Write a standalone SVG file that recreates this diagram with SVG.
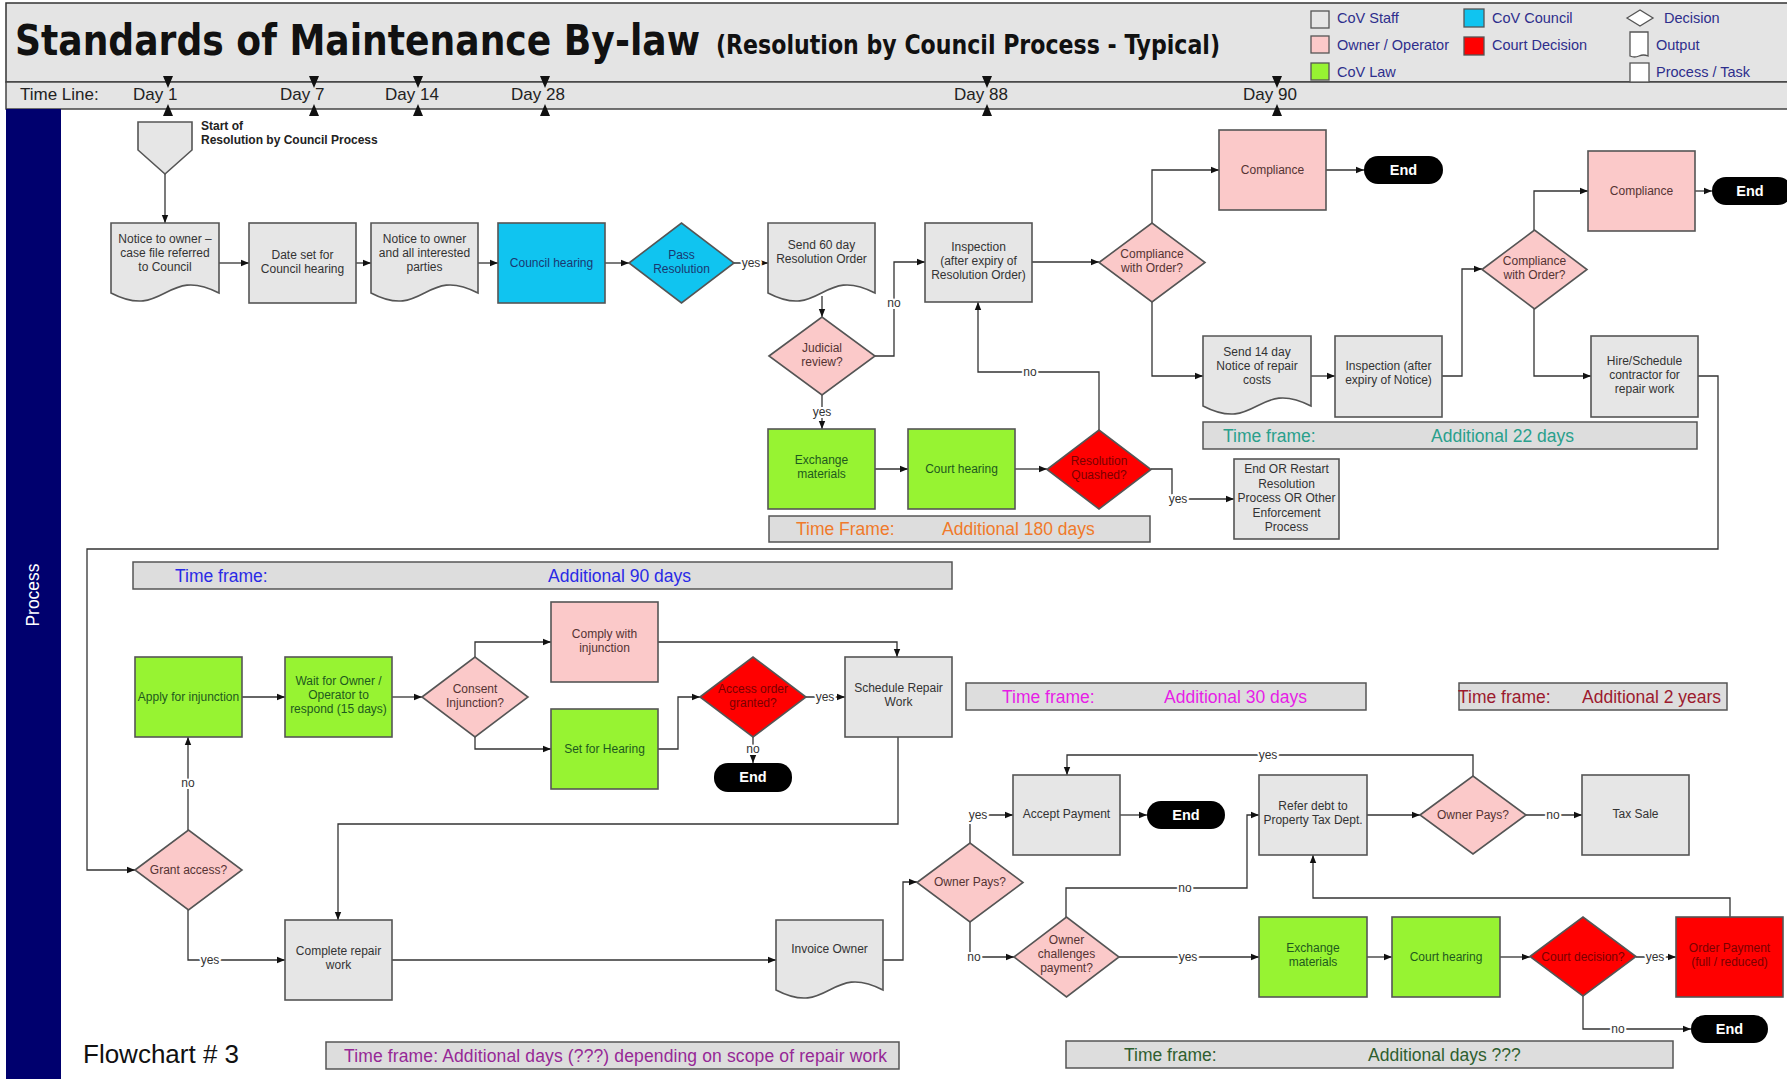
<svg xmlns="http://www.w3.org/2000/svg" width="1787" height="1079" viewBox="0 0 1787 1079">
<defs>
<marker id="ah" viewBox="0 0 10 10" refX="10" refY="5" markerWidth="9" markerHeight="8" markerUnits="userSpaceOnUse" orient="auto"><path d="M0,1 L10,5 L0,9 z" fill="#111"/></marker>
</defs>
<style>
.n{stroke:#555;stroke-width:1.6}
.gray{fill:#e6e6e6}.pink{fill:#fbc9c9}.green{fill:#97f332}.cyan{fill:#10c4f0}.red{fill:#ff0000}
.t{font-family:"Liberation Sans",Arial,sans-serif;font-size:12px;text-anchor:middle}
.tg{fill:#333}.tp{fill:#553333}.tgr{fill:#1e5a1e}.tr{fill:#7a0000}.tc{fill:#1a3870}
.c{fill:none;stroke:#333;stroke-width:1.3;marker-end:url(#ah)}
.cl{fill:none;stroke:#333;stroke-width:1.3}
.lbl{font-family:"Liberation Sans",Arial,sans-serif;font-size:12px;fill:#333;text-anchor:middle;stroke:#fff;stroke-width:4;paint-order:stroke}
.end{fill:#000}
.et{font-family:"Liberation Sans",Arial,sans-serif;font-size:14.5px;font-weight:bold;fill:#fff;text-anchor:middle}
.bar{fill:#dddddd;stroke:#555;stroke-width:1.5}
.bt{font-family:"Liberation Sans",Arial,sans-serif;font-size:17.5px}
.lg{font-family:"Liberation Sans",Arial,sans-serif;font-size:14.5px;fill:#2e2e8c}
.tl{font-family:"Liberation Sans",Arial,sans-serif;font-size:17px;fill:#222}
.mk{fill:#111}
</style>

<!-- header -->
<g id="header">
<rect x="6" y="3" width="1790" height="79" fill="#e4e4e4" stroke="#333" stroke-width="1.5"/>
<rect x="6" y="82" width="1790" height="27" fill="#e4e4e4" stroke="#444" stroke-width="1.5"/>
<text x="15" y="55" font-family="'DejaVu Sans Condensed','DejaVu Sans',sans-serif" font-weight="bold" font-size="43" fill="#111" textLength="685" lengthAdjust="spacingAndGlyphs">Standards of Maintenance By-law</text>
<text x="716" y="54" font-family="'DejaVu Sans Condensed','DejaVu Sans',sans-serif" font-weight="bold" font-size="26" fill="#111" textLength="504" lengthAdjust="spacingAndGlyphs">(Resolution by Council Process - Typical)</text>
</g>

<g id="legend">
<rect x="1311" y="11" width="18" height="17" class="gray" stroke="#555" stroke-width="1.3"/>
<text x="1337" y="23" class="lg">CoV Staff</text>
<rect x="1311" y="36" width="18" height="17" class="pink" stroke="#555" stroke-width="1.3"/>
<text x="1337" y="50" class="lg">Owner / Operator</text>
<rect x="1311" y="63" width="18" height="17" class="green" stroke="#555" stroke-width="1.3"/>
<text x="1337" y="77" class="lg">CoV Law</text>
<rect x="1464" y="9" width="20" height="18" class="cyan" stroke="#555" stroke-width="1.3"/>
<text x="1492" y="23" class="lg">CoV Council</text>
<rect x="1464" y="37" width="20" height="18" class="red" stroke="#555" stroke-width="1.3"/>
<text x="1492" y="50" class="lg">Court Decision</text>
<polygon points="1627,18 1640,10 1653,18 1640,26" fill="#fff" stroke="#555" stroke-width="1.3"/>
<text x="1664" y="23" class="lg">Decision</text>
<path d="M1630,32 H1648 V56 C1639,52 1639,60 1630,56 Z" fill="#fff" stroke="#555" stroke-width="1.3"/>
<text x="1656" y="50" class="lg">Output</text>
<rect x="1630" y="63" width="19" height="19" fill="#fff" stroke="#555" stroke-width="1.3"/>
<text x="1656" y="77" class="lg">Process / Task</text>
</g>

<g id="timeline">
<text x="20" y="100" class="tl">Time Line:</text>
<text x="133" y="100" class="tl">Day 1</text>
<text x="280" y="100" class="tl">Day 7</text>
<text x="385" y="100" class="tl">Day 14</text>
<text x="511" y="100" class="tl">Day 28</text>
<text x="954" y="100" class="tl">Day 88</text>
<text x="1243" y="100" class="tl">Day 90</text>
<path class="mk" d="M163,76 h10 l-5,12 z M163,116 h10 l-5,-12 z"/>
<path class="mk" d="M309,76 h10 l-5,12 z M309,116 h10 l-5,-12 z"/>
<path class="mk" d="M413,76 h10 l-5,12 z M413,116 h10 l-5,-12 z"/>
<path class="mk" d="M540,76 h10 l-5,12 z M540,116 h10 l-5,-12 z"/>
<path class="mk" d="M982,76 h10 l-5,12 z M982,116 h10 l-5,-12 z"/>
<path class="mk" d="M1272,76 h10 l-5,12 z M1272,116 h10 l-5,-12 z"/>
</g>

<g id="lane">
<rect x="6" y="109" width="55" height="975" fill="#00006e"/>
<text transform="translate(38.5,595) rotate(-90)" font-family="'Liberation Sans',Arial,sans-serif" font-size="17.5" fill="#fff" text-anchor="middle">Process</text>
</g>

<!-- time frame bars -->
<g id="timeframes">
<rect class="bar" x="769" y="516" width="381" height="26"/>
<text class="bt" y="535" fill="#f07a2a"><tspan x="796">Time Frame:</tspan><tspan x="942">Additional 180 days</tspan></text>
<rect class="bar" x="1203" y="422" width="494" height="27"/>
<text class="bt" y="442" fill="#2aa08c"><tspan x="1223">Time frame:</tspan><tspan x="1431">Additional 22 days</tspan></text>
<rect class="bar" x="133" y="562" width="819" height="27"/>
<text class="bt" y="582" fill="#2a2ae6"><tspan x="175">Time frame:</tspan><tspan x="548">Additional 90 days</tspan></text>
<rect class="bar" x="966" y="683" width="400" height="27"/>
<text class="bt" y="703" fill="#e61ee6"><tspan x="1002">Time frame:</tspan><tspan x="1164">Additional 30 days</tspan></text>
<rect class="bar" x="1459" y="683" width="268" height="27"/>
<text class="bt" y="703" fill="#9c1a2e"><tspan x="1458">Time frame:</tspan><tspan x="1582">Additional 2 years</tspan></text>
<rect class="bar" x="326" y="1042" width="573" height="27"/>
<text class="bt" x="344" y="1062" fill="#962896" textLength="543">Time frame: Additional days (???) depending on scope of repair work</text>
<rect class="bar" x="1066" y="1041" width="607" height="27"/>
<text class="bt" y="1061" fill="#2f5f2f"><tspan x="1124">Time frame:</tspan><tspan x="1368">Additional days ???</tspan></text>
</g>

<text x="83" y="1063" font-family="'Liberation Sans',Arial,sans-serif" font-size="26" fill="#111">Flowchart # 3</text>

<!-- connectors -->
<g id="connectors">
<path class="c" d="M165,174 V223"/>
<path class="c" d="M219,263 H249"/>
<path class="c" d="M356,263 H371"/>
<path class="c" d="M478,263 H498"/>
<path class="c" d="M605,263 H629"/>
<path class="c" d="M734,263 H768"/>
<path class="c" d="M822,296 V317"/>
<path class="c" d="M875,356 H894 V262 H925"/>
<path class="c" d="M822,395 V429"/>
<path class="c" d="M875,469 H908"/>
<path class="c" d="M1015,469 H1047"/>
<path class="c" d="M1099,430 V372 H978 V302"/>
<path class="c" d="M1151,469 H1172 V499 H1234"/>
<path class="c" d="M1032,262 H1099"/>
<path class="c" d="M1152,223 V170 H1219"/>
<path class="c" d="M1326,170 H1364"/>
<path class="c" d="M1152,302 V376 H1203"/>
<path class="c" d="M1311,376 H1335"/>
<path class="c" d="M1442,376 H1462 V269 H1482"/>
<path class="c" d="M1534,230 V191 H1588"/>
<path class="c" d="M1695,191 H1712"/>
<path class="c" d="M1534,309 V376 H1591"/>
<path class="c" d="M1698,376 H1718 V549 H87 V870 H135"/>
<path class="c" d="M188,830 V737"/>
<path class="c" d="M242,697 H285"/>
<path class="c" d="M392,697 H422"/>
<path class="c" d="M475,657 V642 H551"/>
<path class="c" d="M475,737 V749 H551"/>
<path class="c" d="M658,642 H897 V657"/>
<path class="c" d="M658,749 H678 V697 H700"/>
<path class="c" d="M806,697 H845"/>
<path class="c" d="M753,737 V763"/>
<path class="c" d="M898,737 V824 H338 V920"/>
<path class="c" d="M188,910 V960 H285"/>
<path class="c" d="M392,960 H776"/>
<path class="c" d="M883,960 H903 V882 H917"/>
<path class="c" d="M970,843 V815 H1013"/>
<path class="c" d="M970,922 V957 H1014"/>
<path class="c" d="M1120,815 H1147"/>
<path class="c" d="M1066,917 V888 H1247 V815 H1259"/>
<path class="c" d="M1119,957 H1259"/>
<path class="c" d="M1367,815 H1420"/>
<path class="c" d="M1473,776 V755 H1067 V775"/>
<path class="c" d="M1526,815 H1582"/>
<path class="c" d="M1367,957 H1392"/>
<path class="c" d="M1500,957 H1530"/>
<path class="c" d="M1636,957 H1676"/>
<path class="c" d="M1583,996 V1029 H1691"/>
<path class="c" d="M1730,917 V898 H1313 V855"/>
<text class="lbl" x="751" y="267">yes</text>
<text class="lbl" x="894" y="307">no</text>
<text class="lbl" x="822" y="416">yes</text>
<text class="lbl" x="1030" y="376">no</text>
<text class="lbl" x="1178" y="503">yes</text>
<text class="lbl" x="188" y="787">no</text>
<text class="lbl" x="825" y="701">yes</text>
<text class="lbl" x="753" y="753">no</text>
<text class="lbl" x="210" y="964">yes</text>
<text class="lbl" x="978" y="819">yes</text>
<text class="lbl" x="974" y="961">no</text>
<text class="lbl" x="1185" y="892">no</text>
<text class="lbl" x="1188" y="961">yes</text>
<text class="lbl" x="1268" y="759">yes</text>
<text class="lbl" x="1553" y="819">no</text>
<text class="lbl" x="1655" y="961">yes</text>
<text class="lbl" x="1618" y="1033">no</text>
</g>

<!-- nodes -->
<g id="start">
<path class="n gray" d="M138,122 H192 V150 L165,174 L138,150 Z"/>
<text x="201" y="130" font-family="'Liberation Sans',Arial,sans-serif" font-size="12" font-weight="bold" fill="#222">Start of</text>
<text x="201" y="144" font-family="'Liberation Sans',Arial,sans-serif" font-size="12" font-weight="bold" fill="#222">Resolution by Council Process</text>
</g>
<g id="notice1">
<path class="n gray" d="M111,223 H219 V293 C165,265 165,321 111,293 Z"/>
<text class="t tg" x="165"><tspan x="165" y="243">Notice to owner –</tspan><tspan x="165" y="257">case file referred</tspan><tspan x="165" y="271">to Council</tspan></text>
</g>
<g id="dateset">
<rect class="n gray" x="249" y="223" width="107" height="80"/>
<text class="t tg"><tspan x="302.5" y="259">Date set for</tspan><tspan x="302.5" y="273">Council hearing</tspan></text>
</g>
<g id="notice2">
<path class="n gray" d="M371,223 H478 V293 C424.5,265 424.5,321 371,293 Z"/>
<text class="t tg"><tspan x="424.5" y="243">Notice to owner</tspan><tspan x="424.5" y="257">and all interested</tspan><tspan x="424.5" y="271">parties</tspan></text>
</g>
<g id="councilhearing">
<rect class="n cyan" x="498" y="223" width="107" height="80"/>
<text class="t tc" x="551.5" y="267">Council hearing</text>
</g>
<g id="passres">
<polygon class="n cyan" points="629,263 681.5,223 734,263 681.5,303"/>
<text class="t tc"><tspan x="681.5" y="259">Pass</tspan><tspan x="681.5" y="273">Resolution</tspan></text>
</g>
<g id="send60">
<path class="n gray" d="M768,223 H875 V293 C821.5,265 821.5,321 768,293 Z"/>
<text class="t tg"><tspan x="821.5" y="249">Send 60 day</tspan><tspan x="821.5" y="263">Resolution Order</tspan></text>
</g>
<g id="judicial">
<polygon class="n pink" points="769,356 822,317 875,356 822,395"/>
<text class="t tp"><tspan x="822" y="352">Judicial</tspan><tspan x="822" y="366">review?</tspan></text>
</g>
<g id="inspection1">
<rect class="n gray" x="925" y="223" width="107" height="79"/>
<text class="t tg"><tspan x="978.5" y="251">Inspection</tspan><tspan x="978.5" y="265">(after expiry of</tspan><tspan x="978.5" y="279">Resolution Order)</tspan></text>
</g>
<g id="compliance1q">
<polygon class="n pink" points="1099,262.5 1152,223 1205,262.5 1152,302"/>
<text class="t tp"><tspan x="1152" y="258">Compliance</tspan><tspan x="1152" y="272">with Order?</tspan></text>
</g>
<g id="compliance1">
<rect class="n pink" x="1219" y="130" width="107" height="80"/>
<text class="t tp" x="1272.5" y="174">Compliance</text>
</g>
<g id="end1">
<rect class="end" x="1364" y="156" width="79" height="28" rx="14"/>
<text class="et" x="1403.5" y="175">End</text>
</g>
<g id="send14">
<path class="n gray" d="M1203,336 H1311 V406 C1257,378 1257,434 1203,406 Z"/>
<text class="t tg"><tspan x="1257" y="356">Send 14 day</tspan><tspan x="1257" y="370">Notice of repair</tspan><tspan x="1257" y="384">costs</tspan></text>
</g>
<g id="inspection2">
<rect class="n gray" x="1335" y="336" width="107" height="81"/>
<text class="t tg"><tspan x="1388.5" y="370">Inspection (after</tspan><tspan x="1388.5" y="384">expiry of Notice)</tspan></text>
</g>
<g id="compliance2q">
<polygon class="n pink" points="1482,269.5 1534.5,230 1587,269.5 1534.5,309"/>
<text class="t tp"><tspan x="1534.5" y="265">Compliance</tspan><tspan x="1534.5" y="279">with Order?</tspan></text>
</g>
<g id="compliance2">
<rect class="n pink" x="1588" y="151" width="107" height="80"/>
<text class="t tp" x="1641.5" y="195">Compliance</text>
</g>
<g id="end2">
<rect class="end" x="1712" y="177" width="80" height="28" rx="14"/>
<text class="et" x="1750" y="196">End</text>
</g>
<g id="hire">
<rect class="n gray" x="1591" y="336" width="107" height="81"/>
<text class="t tg"><tspan x="1644.5" y="365">Hire/Schedule</tspan><tspan x="1644.5" y="379">contractor for</tspan><tspan x="1644.5" y="393">repair work</tspan></text>
</g>
<g id="exchange1">
<rect class="n green" x="768" y="429" width="107" height="80"/>
<text class="t tgr"><tspan x="821.5" y="464">Exchange</tspan><tspan x="821.5" y="478">materials</tspan></text>
</g>
<g id="court1">
<rect class="n green" x="908" y="429" width="107" height="80"/>
<text class="t tgr" x="961.5" y="473">Court hearing</text>
</g>
<g id="quashed">
<polygon class="n red" points="1047,469.5 1099,430 1151,469.5 1099,509"/>
<text class="t tr"><tspan x="1099" y="465">Resolution</tspan><tspan x="1099" y="479">Quashed?</tspan></text>
</g>
<g id="endorrestart">
<rect class="n gray" x="1234" y="459" width="105" height="80"/>
<text class="t tg"><tspan x="1286.5" y="473">End OR Restart</tspan><tspan x="1286.5" y="487.5">Resolution</tspan><tspan x="1286.5" y="502">Process OR Other</tspan><tspan x="1286.5" y="516.5">Enforcement</tspan><tspan x="1286.5" y="531">Process</tspan></text>
</g>
<g id="apply">
<rect class="n green" x="135" y="657" width="107" height="80"/>
<text class="t tgr" x="188.5" y="701">Apply for injunction</text>
</g>
<g id="wait">
<rect class="n green" x="285" y="657" width="107" height="80"/>
<text class="t tgr"><tspan x="338.5" y="685">Wait for Owner /</tspan><tspan x="338.5" y="699">Operator to</tspan><tspan x="338.5" y="713">respond (15 days)</tspan></text>
</g>
<g id="consent">
<polygon class="n pink" points="422,697 475,657 528,697 475,737"/>
<text class="t tp"><tspan x="475" y="693">Consent</tspan><tspan x="475" y="707">Injunction?</tspan></text>
</g>
<g id="comply">
<rect class="n pink" x="551" y="602" width="107" height="80"/>
<text class="t tp"><tspan x="604.5" y="638">Comply with</tspan><tspan x="604.5" y="652">injunction</tspan></text>
</g>
<g id="sethearing">
<rect class="n green" x="551" y="709" width="107" height="80"/>
<text class="t tgr" x="604.5" y="753">Set for Hearing</text>
</g>
<g id="access">
<polygon class="n red" points="700,697 753,657 806,697 753,737"/>
<text class="t tr"><tspan x="753" y="693">Access order</tspan><tspan x="753" y="707">granted?</tspan></text>
</g>
<g id="end3">
<rect class="end" x="714" y="763" width="78" height="29" rx="14"/>
<text class="et" x="753" y="782">End</text>
</g>
<g id="schedule">
<rect class="n gray" x="845" y="657" width="107" height="80"/>
<text class="t tg"><tspan x="898.5" y="692">Schedule Repair</tspan><tspan x="898.5" y="706">Work</tspan></text>
</g>
<g id="grant">
<polygon class="n pink" points="135,870 188.5,830 242,870 188.5,910"/>
<text class="t tp" x="188.5" y="874">Grant access?</text>
</g>
<g id="complete">
<rect class="n gray" x="285" y="920" width="107" height="80"/>
<text class="t tg"><tspan x="338.5" y="955">Complete repair</tspan><tspan x="338.5" y="969">work</tspan></text>
</g>
<g id="invoice">
<path class="n gray" d="M776,920 H883 V990 C829.5,962 829.5,1018 776,990 Z"/>
<text class="t tg" x="829.5" y="953">Invoice Owner</text>
</g>
<g id="ownerpays1">
<polygon class="n pink" points="917,882.5 970,843 1023,882.5 970,922"/>
<text class="t tp" x="970" y="886">Owner Pays?</text>
</g>
<g id="accept">
<rect class="n gray" x="1013" y="775" width="107" height="80"/>
<text class="t tg" x="1066.5" y="818">Accept Payment</text>
</g>
<g id="end4">
<rect class="end" x="1147" y="801" width="78" height="28" rx="14"/>
<text class="et" x="1186" y="820">End</text>
</g>
<g id="challenges">
<polygon class="n pink" points="1014,957 1066.5,917 1119,957 1066.5,997"/>
<text class="t tp"><tspan x="1066.5" y="944">Owner</tspan><tspan x="1066.5" y="958">challenges</tspan><tspan x="1066.5" y="972">payment?</tspan></text>
</g>
<g id="refer">
<rect class="n gray" x="1259" y="775" width="108" height="80"/>
<text class="t tg"><tspan x="1313" y="810">Refer debt to</tspan><tspan x="1313" y="824">Property Tax Dept.</tspan></text>
</g>
<g id="ownerpays2">
<polygon class="n pink" points="1420,815 1473,776 1526,815 1473,854"/>
<text class="t tp" x="1473" y="819">Owner Pays?</text>
</g>
<g id="taxsale">
<rect class="n gray" x="1582" y="775" width="107" height="80"/>
<text class="t tg" x="1635.5" y="818">Tax Sale</text>
</g>
<g id="exchange2">
<rect class="n green" x="1259" y="917" width="108" height="80"/>
<text class="t tgr"><tspan x="1313" y="952">Exchange</tspan><tspan x="1313" y="966">materials</tspan></text>
</g>
<g id="court2">
<rect class="n green" x="1392" y="917" width="108" height="80"/>
<text class="t tgr" x="1446" y="961">Court hearing</text>
</g>
<g id="courtdecision">
<polygon class="n red" points="1530,956.5 1583,917 1636,956.5 1583,996"/>
<text class="t tr" x="1583" y="961">Court decision?</text>
</g>
<g id="orderpayment">
<rect class="n red" x="1676" y="917" width="107" height="80"/>
<text class="t tr"><tspan x="1729.5" y="952">Order Payment</tspan><tspan x="1729.5" y="966">(full / reduced)</tspan></text>
</g>
<g id="end5">
<rect class="end" x="1691" y="1015" width="77" height="28" rx="14"/>
<text class="et" x="1729.5" y="1034">End</text>
</g>
</svg>
